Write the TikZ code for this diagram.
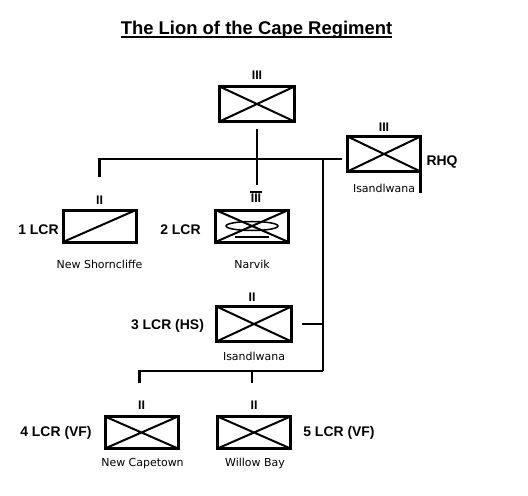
\documentclass[tikz,border=0pt]{standalone}
\usepackage{fontspec}
\setmainfont{Liberation Sans}
\newfontfamily\smallfont{DejaVu Sans}
\begin{document}
\begin{tikzpicture}[x=1bp,y=-1bp,
  unit/.style={draw, line width=3bp, minimum width=73bp, minimum height=32bp, inner sep=0pt},
  xcross/.style={unit, path picture={\draw[line width=2bp]
      (path picture bounding box.south west) -- (path picture bounding box.north east)
      (path picture bounding box.north west) -- (path picture bounding box.south east);}},
  slash/.style={unit, path picture={\draw[line width=2bp]
      (path picture bounding box.south west) -- (path picture bounding box.north east);}},
  num/.style={font=\bfseries\fontsize{12.5}{12.5}\selectfont, inner sep=0pt, anchor=south},
  lbl/.style={font=\bfseries\fontsize{14}{14}\selectfont, inner sep=0pt, anchor=base},
  sm/.style={font=\smallfont\fontsize{11}{11}\selectfont, inner sep=0pt, anchor=base},
  conn/.style={line width=2.2bp}]
\path[fill=white, use as bounding box] (0,0) rectangle (528,496);

% title
\node[font=\bfseries\fontsize{18.5}{18.5}\selectfont, inner sep=0pt, anchor=base] (title) at (256.5,35) {The Lion of the Cape Regiment};
\draw[line width=2bp] ([yshift=-2bp]title.base west) -- ([yshift=-2bp]title.base east);

% units
\node[xcross, minimum width=75bp, minimum height=35bp] (regt) at (257,104) {};
\node[xcross, minimum height=35bp] (rhq) at (384,154) {};
\node[slash] (b1) at (99.5,226) {};
\node[xcross] (b2) at (252,226) {};
\node[xcross, minimum width=75bp, minimum height=35bp] (b3) at (254,324) {};
\node[xcross] (b4) at (141.5,432.5) {};
\node[xcross] (b5) at (254,432.5) {};

% RHQ flag staff
\draw[line width=3bp] (rhq.south east) ++(-1.5bp,0) coordinate (rhqs) -- ++(0,20);

% armour symbol in b2
\draw[line width=1.5bp] (b2.center) ellipse [x radius=26bp, y radius=4.5bp];
\draw[line width=1.5bp] ([xshift=-17bp,yshift=-11bp]b2.center) -- ([xshift=17bp,yshift=-11bp]b2.center);

% echelon marks
\node[num] (nr) at ([yshift=5bp]regt.north) {III};
\node[num] (nh) at ([yshift=3bp]rhq.north) {III};
\node[num] (n1) at ([yshift=4bp]b1.north) {II};
\node[num] (n2) at ([xshift=4bp,yshift=6bp]b2.north) {III};
\draw[line width=2bp] ([xshift=-1bp,yshift=2bp]n2.north west) -- ([xshift=1bp,yshift=2bp]n2.north east);
\node[num] (n3) at ([xshift=-2bp,yshift=3bp]b3.north) {II};
\node[num] (n4) at ([yshift=5bp]b4.north) {II};
\node[num] (n5) at ([yshift=5bp]b5.north) {II};

% labels
\node[lbl] (l1) at (38.5,234) {1 LCR};
\node[lbl] (l2) at (180.5,234) {2 LCR};
\node[lbl] (lh) at (442,166) {RHQ};
\node[lbl] (l3) at (167.5,329.5) {3 LCR (HS)};
\node[lbl] (l4) at (56,436) {4 LCR (VF)};
\node[lbl] (l5) at (339,436) {5 LCR (VF)};

\node[sm] (s1) at (99.5,268) {New Shorncliffe};
\node[sm] (s2) at (252,268) {Narvik};
\node[sm] (sh) at (384,193) {Isandlwana};
\node[sm] (s3) at (254,360) {Isandlwana};
\node[sm] (s4) at (142.5,466) {New Capetown};
\node[sm] (s5) at (255,466) {Willow Bay};

% connectors
\coordinate (bus) at (0,159);
\coordinate (bus2) at (0,371);
\coordinate (trunk) at (323,0);
\draw[conn, shorten <=6bp, shorten >=9bp] (regt.south) -- (regt.south |- n2.north);
\draw[conn, shorten <=19bp, shorten >=4bp] (n1.north) |- (rhq.west |- bus);
\draw[conn] (trunk |- bus) -- (trunk |- bus2);
\draw[conn, shorten <=9bp] (b3.east) -- (trunk |- b3.east);
\draw[conn, shorten <=18bp] ([xshift=-2bp]n4.north) |- (trunk |- bus2);
\draw[conn, shorten >=18bp] ([xshift=-2bp]n5.north |- bus2) -- ([xshift=-2bp]n5.north);
\end{tikzpicture}
\end{document}
